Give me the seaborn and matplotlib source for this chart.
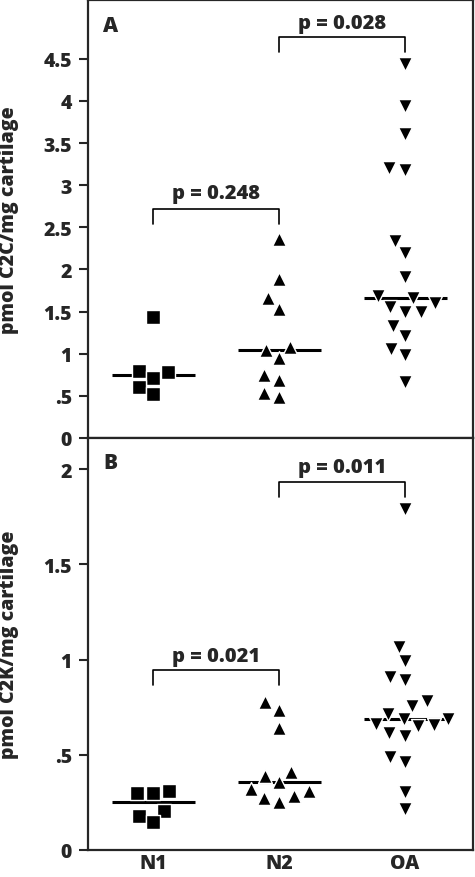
import numpy as np
import pandas as pd
import matplotlib
matplotlib.use("Agg")
from matplotlib import pyplot as plt
import seaborn as sns

groups = ["N1", "N2", "OA"]
markers = ["s", "^", "v"]

# panel A: pmol C2C / mg cartilage
c2c_n1 = [1.44, 0.80, 0.78, 0.71, 0.60, 0.52]
c2c_n2 = [2.36, 1.89, 1.66, 1.53, 1.085, 1.05, 0.95, 0.75, 0.69, 0.54, 0.49]
c2c_oa = [4.44, 3.94, 3.61, 3.20, 3.18, 2.34, 2.20, 1.91, 1.68, 1.66, 1.60,
          1.56, 1.50, 1.50, 1.33, 1.21, 1.06, 0.98, 0.67]

# panel B: pmol C2K / mg cartilage
c2k_n1 = [0.31, 0.30, 0.297, 0.206, 0.18, 0.145]
c2k_n2 = [0.775, 0.736, 0.64, 0.41, 0.39, 0.355, 0.32, 0.31, 0.285, 0.275, 0.25]
c2k_oa = [1.79, 1.064, 0.99, 0.91, 0.89, 0.78, 0.757, 0.714, 0.69, 0.688, 0.66,
          0.656, 0.65, 0.614, 0.60, 0.487, 0.464, 0.306, 0.215]

pvals_a = ["p = 0.248", "p = 0.028"]
pvals_b = ["p = 0.021", "p = 0.011"]

def long(a, b, c):
    return pd.DataFrame({"group": ["N1"] * len(a) + ["N2"] * len(b) + ["OA"] * len(c),
                         "value": a + b + c})

df_a = long(c2c_n1, c2c_n2, c2c_oa)
df_b = long(c2k_n1, c2k_n2, c2k_oa)

sns.set_theme(style="ticks")
plt.rcParams["font.family"] = ["Open Sans", "DejaVu Sans"]
W = 800

fig = plt.figure(figsize=(4.75, 8.78), dpi=100)
ax_a = fig.add_axes([0.185, 0.5, 0.811, 0.499])
ax_b = fig.add_axes([0.185, 0.0308, 0.811, 0.4692])

def panel(ax, df, ylim, yticks, yticklabels, ylabel, letter, pvals, brackets):
    for g, m in zip(groups, markers):
        sns.swarmplot(data=df[df.group == g], x="group", y="value", order=groups,
                      marker=m, color="black", size=10, edgecolor="white",
                      linewidth=1.0, ax=ax, zorder=3)
    med = df.groupby("group")["value"].median().reindex(groups)
    ax.hlines(med.values, np.arange(3) - 0.33, np.arange(3) + 0.33,
              color="black", lw=2.2, zorder=1)
    for (x0, x1, ytop, ylow, ytxt), p in zip(brackets, pvals):
        ax.plot([x0, x0, x1, x1], [ylow, ytop, ytop, ylow], color="black", lw=1.2)
        ax.text((x0 + x1) / 2, ytxt, p, ha="center", va="center",
                fontsize=14.5, fontweight=W)
    ax.set_xlim(-0.52, 2.54)
    ax.set_ylim(*ylim)
    ax.set_yticks(yticks)
    ax.set_yticklabels(yticklabels, fontsize=14, fontweight=W)
    ax.set_ylabel(ylabel, fontsize=14, fontweight=W)
    ax.yaxis.set_label_coords(-0.178, 0.5)
    ax.set_xlabel("")
    ax.text(0.04, 0.965, letter, transform=ax.transAxes, ha="left", va="top",
            fontsize=15, fontweight=W)
    for s in ax.spines.values():
        s.set_linewidth(1.6)
        s.set_visible(True)
    ax.tick_params(axis="y", length=6.5, width=1.5, pad=5)
    ax.tick_params(axis="x", length=0, pad=2)

panel(ax_a, df_a, (0, 5.2), np.arange(0, 4.6, 0.5),
      ["0", ".5", "1", "1.5", "2", "2.5", "3", "3.5", "4", "4.5"],
      "pmol C2C/mg cartilage", "A", pvals_a,
      [(0, 1, 2.72, 2.54, 2.91), (1, 2, 4.76, 4.58, 4.93)])
ax_a.set_xticklabels([])

panel(ax_b, df_b, (0, 2.163), [0, 0.5, 1, 1.5, 2],
      ["0", ".5", "1", "1.5", "2"],
      "pmol C2K/mg cartilage", "B", pvals_b,
      [(0, 1, 0.945, 0.866, 1.02), (1, 2, 1.933, 1.853, 2.01)])
ax_b.set_xticklabels(groups, fontsize=14, fontweight=W)

fig.savefig("out.png", dpi=100)
